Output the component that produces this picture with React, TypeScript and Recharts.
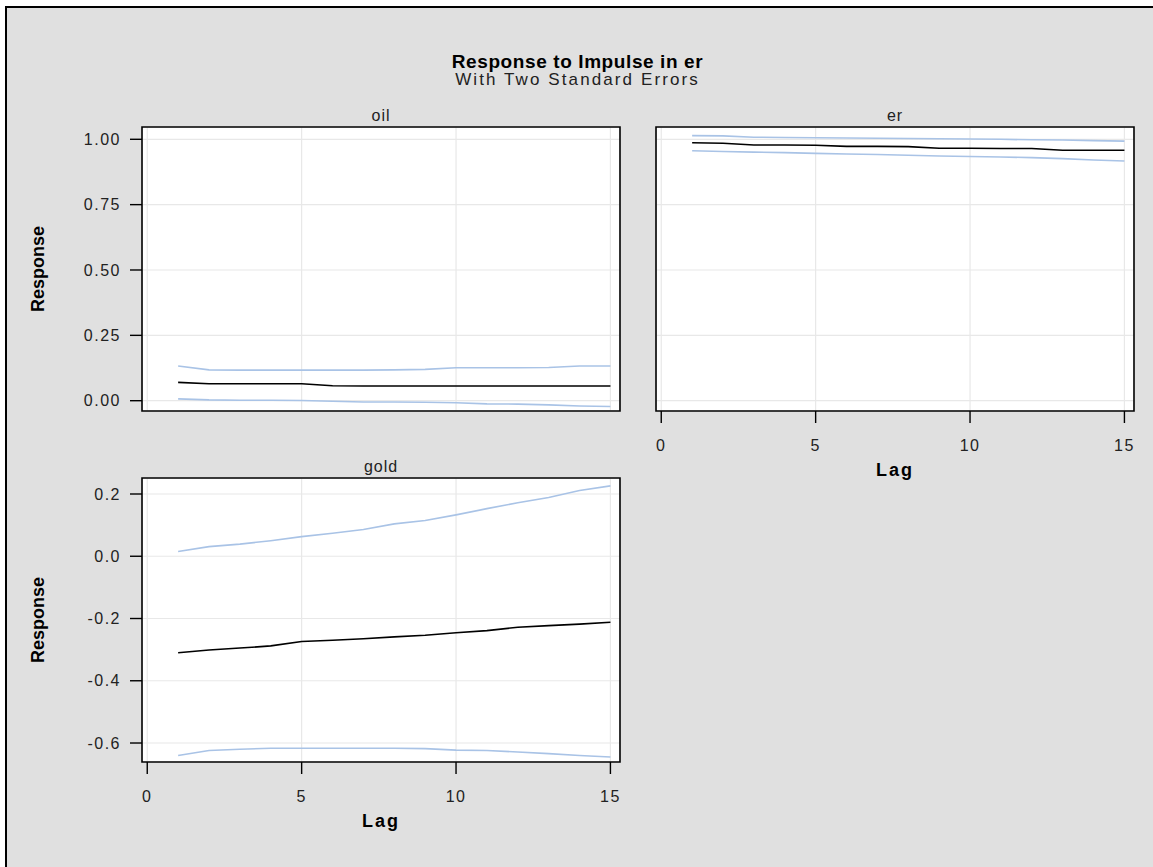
import React from "react";
import {
  CartesianGrid,
  Line,
  LineChart,
  ReferenceArea,
  XAxis,
  YAxis,
} from "recharts";

const FONT = '"Liberation Sans", Arial, Helvetica, sans-serif';

const LAGS = [1, 2, 3, 4, 5, 6, 7, 8, 9, 10, 11, 12, 13, 14, 15];
const LAG_TICKS = [0, 5, 10, 15];
const TOP_ROW_TICKS = [0, 0.25, 0.5, 0.75, 1];
const GOLD_TICKS = [-0.6, -0.4, -0.2, 0, 0.2];

const OIL_RESPONSE = [0.07, 0.065, 0.065, 0.065, 0.065, 0.057, 0.056, 0.056, 0.056, 0.056, 0.056, 0.056, 0.056, 0.056, 0.056];
const OIL_UPPER = [0.133, 0.118, 0.117, 0.117, 0.117, 0.117, 0.117, 0.118, 0.12, 0.126, 0.126, 0.126, 0.127, 0.133, 0.133];
const OIL_LOWER = [0.007, 0.003, 0.002, 0.002, 0.001, -0.002, -0.005, -0.005, -0.006, -0.008, -0.012, -0.013, -0.016, -0.02, -0.022];

const ER_RESPONSE = [0.987, 0.985, 0.978, 0.978, 0.977, 0.973, 0.973, 0.972, 0.966, 0.966, 0.965, 0.965, 0.958, 0.958, 0.958];
const ER_UPPER = [1.014, 1.013, 1.008, 1.007, 1.006, 1.005, 1.004, 1.003, 1.002, 1.001, 1.0, 0.998, 0.997, 0.995, 0.993];
const ER_LOWER = [0.956, 0.953, 0.951, 0.949, 0.946, 0.944, 0.942, 0.939, 0.936, 0.934, 0.932, 0.93, 0.926, 0.921, 0.917];

const GOLD_RESPONSE = [-0.31, -0.301, -0.295, -0.288, -0.274, -0.27, -0.265, -0.259, -0.254, -0.246, -0.239, -0.228, -0.223, -0.218, -0.212];
const GOLD_UPPER = [0.015, 0.031, 0.039, 0.05, 0.063, 0.074, 0.086, 0.104, 0.115, 0.133, 0.153, 0.172, 0.189, 0.211, 0.226];
const GOLD_LOWER = [-0.64, -0.624, -0.62, -0.617, -0.617, -0.617, -0.617, -0.617, -0.618, -0.623, -0.624, -0.629, -0.634, -0.64, -0.645];

const X_DOMAIN: [number, number] = [-0.17, 15.31];
const TOP_ROW_DOMAIN: [number, number] = [-0.0394, 1.047];
const GOLD_DOMAIN: [number, number] = [-0.661, 0.2514];

function buildRows(response: number[], upper: number[], lower: number[]) {
  return LAGS.map((lag, i) => ({
    lag,
    response: response[i],
    upper: upper[i],
    lower: lower[i],
  }));
}

const tickStyle = { fontSize: 16, fill: "#222", fontFamily: FONT, letterSpacing: 1.5 };

// shared axes: keep the ticks (so the grid still gets them) but draw nothing
const NoTick = () => <g />;

function YTitle({ viewBox }: any) {
  if (!viewBox) return null;
  const cx = viewBox.x + 38;
  const cy = viewBox.y + viewBox.height / 2;
  return (
    <text
      x={cx}
      y={cy}
      transform={`rotate(-90 ${cx} ${cy})`}
      textAnchor="middle"
      dominantBaseline="central"
      fontFamily={FONT}
      fontWeight="bold"
      fontSize={18}
      fill="#000"
    >
      Response
    </text>
  );
}

function XTitle({ viewBox }: any) {
  if (!viewBox) return null;
  const cx = viewBox.x + viewBox.width / 2;
  const cy = viewBox.y + 59;
  return (
    <text
      x={cx}
      y={cy}
      textAnchor="middle"
      dominantBaseline="central"
      fontFamily={FONT}
      fontWeight="bold"
      fontSize={18}
      letterSpacing={2}
      fill="#000"
    >
      Lag
    </text>
  );
}

type PanelProps = {
  title: string;
  rows: ReturnType<typeof buildRows>;
  left: number;
  top: number;
  yDomain: [number, number];
  yTicks: number[];
  showYAxis: boolean;
  showXAxis: boolean;
};

function Panel({ title, rows, left, top, yDomain, yTicks, showYAxis, showXAxis }: PanelProps) {
  const yWidth = showYAxis ? 142 : 1;
  const xHeight = showXAxis ? 90 : 1;
  const width = yWidth + 478 + 4;
  const height = 27 + 284 + xHeight;

  return (
    <div style={{ position: "absolute", left, top }}>
      <LineChart
        width={width}
        height={height}
        data={rows}
        margin={{ top: 27, right: 4, left: 0, bottom: 0 }}
      >
        <CartesianGrid stroke="#e8e8e8" strokeWidth={1.2} fill="#ffffff" />
        <XAxis
          type="number"
          dataKey="lag"
          domain={X_DOMAIN}
          ticks={LAG_TICKS}
          allowDataOverflow
          height={xHeight}
          axisLine={false}
          tick={showXAxis ? tickStyle : NoTick}
          tickLine={showXAxis ? { stroke: "#000", strokeWidth: 1.4 } : false}
          tickSize={12}
          tickMargin={17}
          label={showXAxis ? <XTitle /> : undefined}
        />
        <YAxis
          type="number"
          domain={yDomain}
          ticks={yTicks}
          allowDataOverflow
          width={yWidth}
          axisLine={false}
          tick={showYAxis ? tickStyle : NoTick}
          tickLine={showYAxis ? { stroke: "#000", strokeWidth: 1.4 } : false}
          tickSize={12}
          tickMargin={9}
          tickFormatter={(v: number) =>
            yTicks === TOP_ROW_TICKS ? v.toFixed(2) : v.toFixed(1)
          }
          label={showYAxis ? <YTitle /> : undefined}
        />
        <Line
          type="linear"
          dataKey="upper"
          stroke="#a9c3e6"
          strokeWidth={1.6}
          dot={false}
          activeDot={false}
          isAnimationActive={false}
        />
        <Line
          type="linear"
          dataKey="lower"
          stroke="#a9c3e6"
          strokeWidth={1.6}
          dot={false}
          activeDot={false}
          isAnimationActive={false}
        />
        <Line
          type="linear"
          dataKey="response"
          stroke="#000"
          strokeWidth={1.6}
          dot={false}
          activeDot={false}
          isAnimationActive={false}
        />
        <ReferenceArea
          x1={X_DOMAIN[0]}
          x2={X_DOMAIN[1]}
          y1={yDomain[0]}
          y2={yDomain[1]}
          fill="none"
          stroke="#000"
          strokeWidth={1.6}
          ifOverflow="visible"
          label={{
            value: title,
            position: "top",
            offset: 6,
            fontSize: 16,
            fill: "#222",
            fontFamily: FONT,
            letterSpacing: 1,
          }}
        />
      </LineChart>
    </div>
  );
}

export default function App() {
  const oilRows = buildRows(OIL_RESPONSE, OIL_UPPER, OIL_LOWER);
  const erRows = buildRows(ER_RESPONSE, ER_UPPER, ER_LOWER);
  const goldRows = buildRows(GOLD_RESPONSE, GOLD_UPPER, GOLD_LOWER);

  return (
    <div
      style={{
        position: "fixed",
        left: 0,
        top: 0,
        width: 1153,
        height: 867,
        background: "#fff",
        overflow: "hidden",
        fontFamily: FONT,
      }}
    >
      <div
        style={{
          position: "absolute",
          left: 5,
          top: 6,
          width: 1200,
          height: 900,
          background: "#e0e0e0",
          borderLeft: "2px solid #000",
          borderTop: "2px solid #000",
        }}
      />
      <div
        style={{
          position: "absolute",
          left: 0,
          top: 52,
          width: 1155,
          textAlign: "center",
          fontWeight: "bold",
          fontSize: 19,
          letterSpacing: 0.6,
          color: "#000",
          lineHeight: "20px",
        }}
      >
        Response to Impulse in er
      </div>
      <div
        style={{
          position: "absolute",
          left: 0,
          top: 71,
          width: 1155,
          textAlign: "center",
          fontSize: 17,
          letterSpacing: 2.1,
          color: "#222",
          lineHeight: "18px",
        }}
      >
        With Two Standard Errors
      </div>

      <Panel
        title="oil"
        rows={oilRows}
        left={0}
        top={100}
        yDomain={TOP_ROW_DOMAIN}
        yTicks={TOP_ROW_TICKS}
        showYAxis
        showXAxis={false}
      />
      <Panel
        title="er"
        rows={erRows}
        left={655}
        top={100}
        yDomain={TOP_ROW_DOMAIN}
        yTicks={TOP_ROW_TICKS}
        showYAxis={false}
        showXAxis
      />
      <Panel
        title="gold"
        rows={goldRows}
        left={0}
        top={451}
        yDomain={GOLD_DOMAIN}
        yTicks={GOLD_TICKS}
        showYAxis
        showXAxis
      />
    </div>
  );
}
